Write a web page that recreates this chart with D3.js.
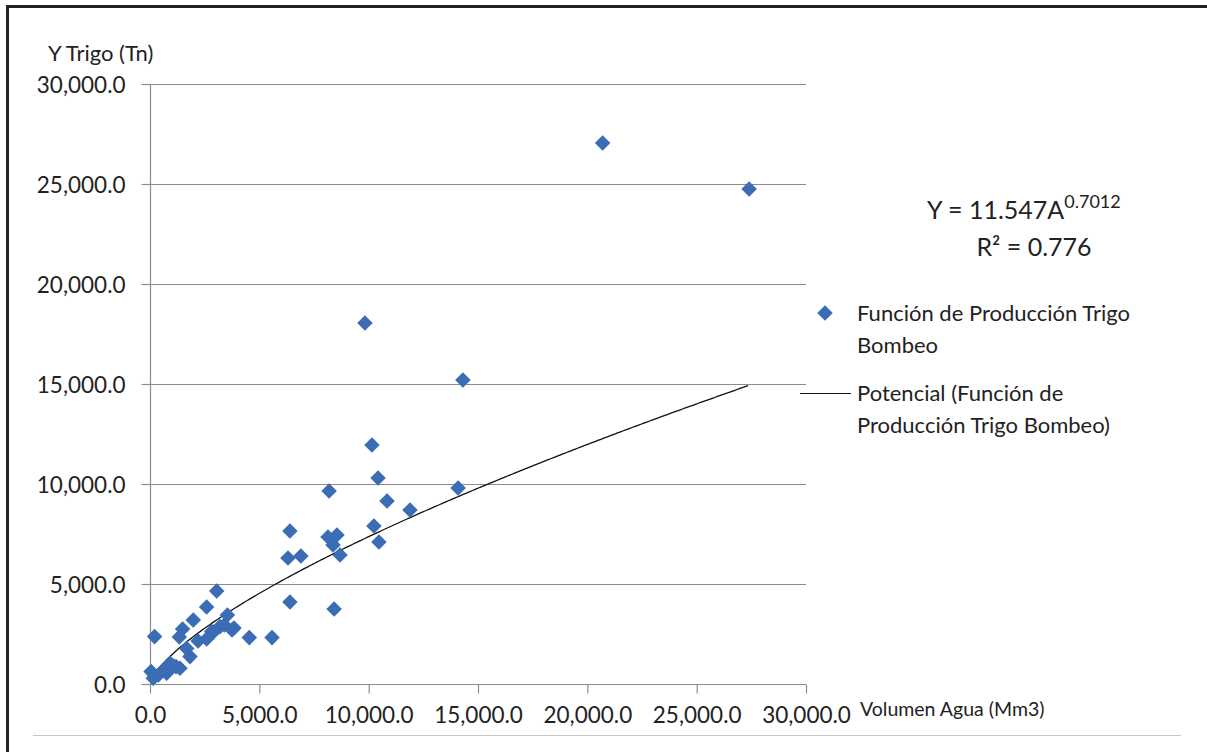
<!DOCTYPE html>
<html><head><meta charset="utf-8">
<script src="https://cdn.jsdelivr.net/npm/d3@7/dist/d3.min.js"></script>
<style>body{margin:0;background:#fff}svg{display:block}text{font-family:Lato,"Open Sans",sans-serif;fill:#222}</style>
</head><body><svg id="c" width="1207" height="752"></svg>
<script>
const volumen = [20700,27400,9830,14310,10150,10430,8190,14090,10840,11890,10240,6400,8140,8550,8370,10470,6900,6310,8690,6400,8420,
 3050,2590,1980,1490,1340,210,2590,2820,3200,3540,3840,3750,4540,5580,1680,1830,1190,920,610,50,150,380,760,1070,1370,2200,2900,3400];
const trigo   = [27050,24750,18050,15200,11950,10300,9650,9800,9150,8700,7900,7650,7350,7450,6950,7100,6400,6300,6450,4100,3750,
 4650,3850,3200,2750,2350,2370,2250,2620,2870,3450,2800,2700,2320,2320,1770,1370,870,1040,700,620,290,450,540,900,790,2150,2600,2950];
const xTicks = [0,5000,10000,15000,20000,25000,30000];
const yTicks = [0,5000,10000,15000,20000,25000,30000];
const coefA = 11.547, expB = 0.7012, r2 = 0.776;
const seriesName = ["Función de Producción Trigo","Bombeo"];
const trendName = ["Potencial (Función de","Producción Trigo Bombeo)"];

const svg = d3.select("#c");
const x = d3.scaleLinear().domain([0,30000]).range([150,806]);
const y = d3.scaleLinear().domain([0,30000]).range([684,84]);
const fmt = d3.format(",.1f");
const blue = "#3a6db5", grid = "#8c8c8c";

// frame
svg.append("line").attr("x1",6).attr("x2",1207).attr("y1",6.5).attr("y2",6.5).attr("stroke","#222").attr("stroke-width",3);
svg.append("line").attr("x1",7.5).attr("x2",7.5).attr("y1",5).attr("y2",752).attr("stroke","#222").attr("stroke-width",3);
svg.append("line").attr("x1",33).attr("x2",1181).attr("y1",735.5).attr("y2",735.5).attr("stroke","#c8c8c8").attr("stroke-width",1);

// gridlines
svg.append("g").selectAll("line").data(yTicks.filter(d=>d>0)).join("line")
  .attr("x1",150).attr("x2",806).attr("y1",d=>Math.round(y(d))+0.5).attr("y2",d=>Math.round(y(d))+0.5)
  .attr("stroke",grid).attr("stroke-width",1.2);

// axes
const xa = svg.append("g").attr("transform","translate(0,684.5)")
  .call(d3.axisBottom(x).tickValues(xTicks).tickFormat(fmt).tickSize(9).tickPadding(10));
const ya = svg.append("g").attr("transform","translate(150.5,0)")
  .call(d3.axisLeft(y).tickValues(yTicks).tickFormat(fmt).tickSize(9).tickPadding(16));
[xa,ya].forEach(a=>{a.selectAll("path,line").attr("stroke",grid).attr("stroke-width",1.2);
  a.selectAll("text").style("font-size","22.5px").attr("fill","#222");});
ya.select(".domain").remove();
ya.append("line").attr("x1",0).attr("x2",0).attr("y1",84).attr("y2",684).attr("stroke",grid).attr("stroke-width",1.2);
xa.select(".domain").attr("d","M150,0H806");
ya.selectAll("text").attr("dy","0.36em");
xa.selectAll("text").attr("dy","0.85em");

// trendline
const xs = d3.range(50, d3.max(volumen)+1, 100);
const line = d3.line().x(d=>x(d)).y(d=>y(coefA*Math.pow(d,expB)));
svg.append("path").datum(xs).attr("d",line).attr("fill","none").attr("stroke","#111").attr("stroke-width",1.3);

// points
const sq = 11;
svg.append("g").selectAll("rect").data(volumen.map((v,i)=>[v,trigo[i]])).join("rect")
  .attr("width",sq).attr("height",sq).attr("x",-sq/2).attr("y",-sq/2)
  .attr("transform",d=>`translate(${x(d[0])},${y(d[1])}) rotate(45)`)
  .attr("fill",blue);

// axis titles
svg.append("text").attr("x",48).attr("y",61).style("font-size","22px").text("Y Trigo (Tn)");
svg.append("text").attr("x",860).attr("y",716).style("font-size","19.5px").text("Volumen Agua (Mm3)");

// equation
const eq = svg.append("text").attr("x",927).attr("y",219).style("font-size","25px");
eq.append("tspan").text(`Y = ${coefA}A`);
eq.append("tspan").attr("dy",-11).style("font-size","18px").text(expB);
svg.append("text").attr("x",1034).attr("y",256).attr("text-anchor","middle").style("font-size","25px").text("R² = "+r2);

// legend
svg.append("rect").attr("width",sq).attr("height",sq).attr("x",-sq/2).attr("y",-sq/2)
  .attr("transform","translate(825,313) rotate(45)").attr("fill",blue);
const lt = svg.append("g").style("font-size","22px");
lt.append("text").attr("x",857).attr("y",321).text(seriesName[0]);
lt.append("text").attr("x",857).attr("y",353).text(seriesName[1]);
svg.append("line").attr("x1",800).attr("x2",851).attr("y1",393.5).attr("y2",393.5).attr("stroke","#111").attr("stroke-width",1.2);
lt.append("text").attr("x",857).attr("y",401).text(trendName[0]);
lt.append("text").attr("x",857).attr("y",433).text(trendName[1]);
</script></body></html>
